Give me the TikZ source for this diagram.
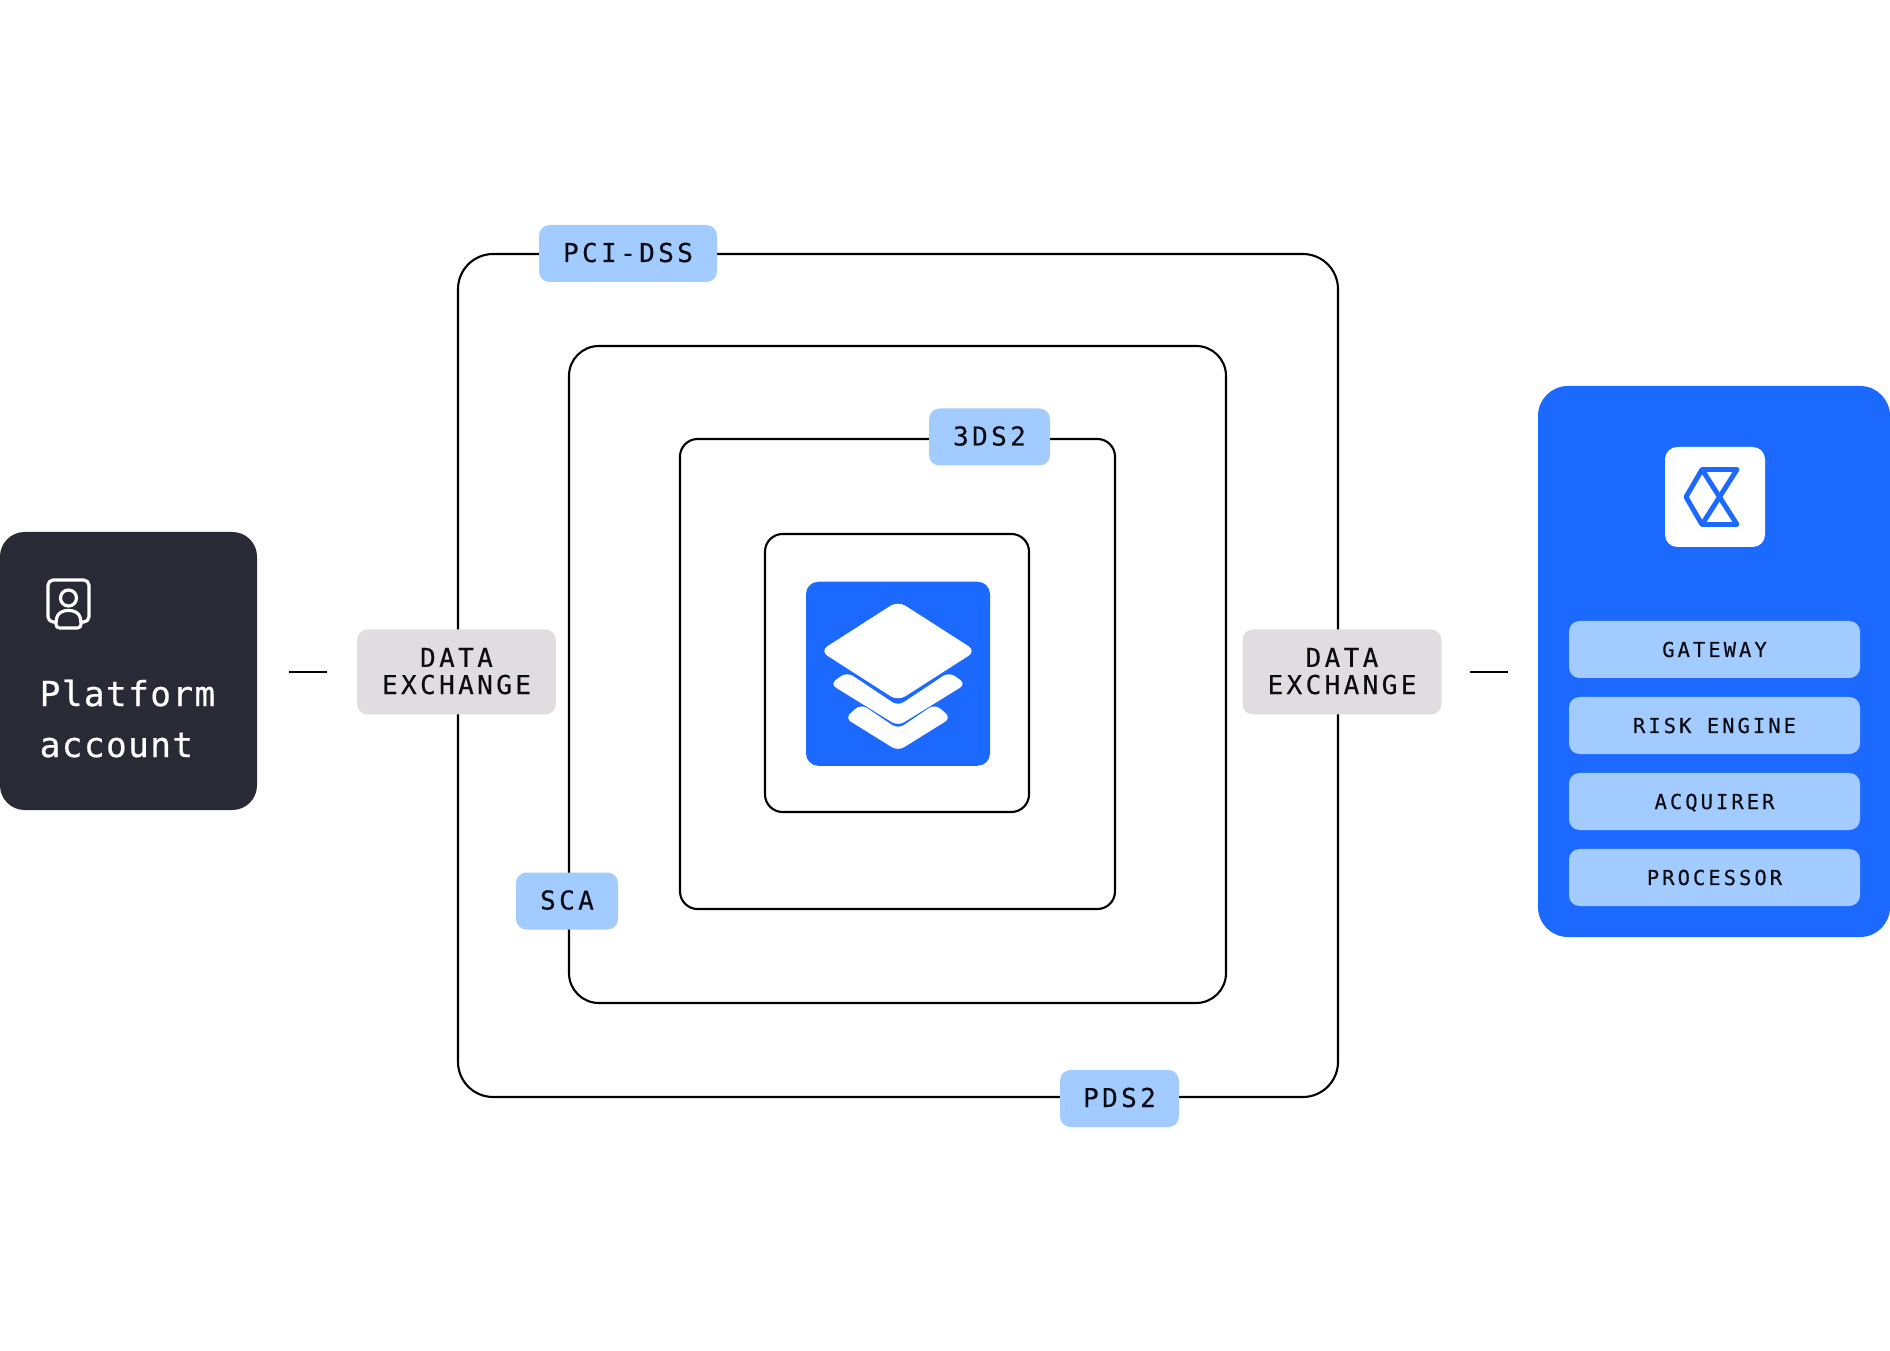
\documentclass[tikz,border=0pt]{standalone}
\usepackage{xcolor}
\usepackage{fontspec}
\usetikzlibrary{positioning,calc}
\newfontfamily\titlefont[LetterSpace=4,FakeBold=0.5]{DejaVu Sans Mono}
\newfontfamily\tagfont[LetterSpace=13,FakeBold=0.3]{DejaVu Sans Mono}
\newfontfamily\rowfont[LetterSpace=14.5,FakeBold=0.3]{DejaVu Sans Mono}
\definecolor{primary}{RGB}{27,105,255}
\definecolor{primarybg}{RGB}{162,203,255}
\definecolor{darkbox}{RGB}{42,42,54}
\definecolor{greybox}{RGB}{225,220,223}
\definecolor{darktext}{RGB}{11,11,20}

\begin{document}
\begin{tikzpicture}[
            ring/.style={rectangle, draw=black, line width=0.6pt, inner sep=0pt, outer sep=0pt},
            tag/.style={rectangle, rounded corners=3pt, fill=primarybg, minimum height=0.57cm, inner sep=0pt, outer sep=0pt, text height=0.19cm, text depth=0.02cm, text=darktext, font=\tagfont\fontsize{7.4}{7.7}\selectfont},
            exch/.style={rectangle, rounded corners=3pt, fill=greybox, minimum width=1.99cm, minimum height=0.85cm, inner sep=0pt, outer sep=0pt, align=center, text depth=0.02cm, text=darktext, font=\tagfont\fontsize{7.4}{7.7}\selectfont},
            row/.style={rectangle, rounded corners=3pt, fill=primarybg, minimum width=2.91cm, minimum height=0.57cm, inner sep=0pt, outer sep=0pt, text height=0.15cm, text depth=0pt, text=darktext, font=\rowfont\fontsize{5.85}{7}\selectfont},
            link/.style={line width=0.6pt, black},
            icon/.style={white, line width=0.9pt, line join=round},
            sheet/.style={fill=white, rounded corners=2.5pt},
            chevron/.style={fill=white, rounded corners=2pt}
        ]
        \useasboundingbox (0,0) rectangle (18.9,13.5);

        % Compliance rings
        \node[ring, rounded corners=10pt, minimum width=8.8cm, minimum height=8.43cm] (outer) at (8.98,6.745) {};
        \node[ring, rounded corners=8.5pt, minimum width=6.57cm, minimum height=6.57cm] (second) at (8.975,6.755) {};
        \node[ring, rounded corners=5pt, minimum width=4.35cm, minimum height=4.7cm] (third) at (8.975,6.76) {};
        \node[ring, rounded corners=5pt, minimum width=2.64cm, minimum height=2.78cm] (inner) at (8.97,6.77) {};

        % Layers tile
        \node[rectangle, rounded corners=3.5pt, fill=primary, minimum width=1.84cm, minimum height=1.84cm, inner sep=0pt] (layers) at (8.98,6.7625) {};
        \fill[sheet] (8.98,7.49) -- (9.76,6.99) -- (8.98,6.49) -- (8.20,6.99) -- cycle;
        \fill[chevron] (8.47,6.78) -- (8.98,6.44) -- (9.49,6.78) -- (9.66,6.66) -- (8.98,6.24) -- (8.30,6.66) -- cycle;
        \fill[chevron] (8.61,6.46) -- (8.98,6.21) -- (9.35,6.46) -- (9.51,6.32) -- (8.98,5.99) -- (8.45,6.32) -- cycle;

        % Ring labels
        \node[tag, minimum width=1.78cm] (pci) at (6.28,10.965) {PCI-DSS};
        \node[tag, minimum width=1.21cm] (tds) at (9.895,9.13) {3DS2};
        \node[tag, minimum width=1.02cm] (sca) at (5.67,4.49) {SCA};
        \node[tag, minimum width=1.19cm] (pds) at (11.195,2.515) {PDS2};

        % Platform account
        \node[rectangle, rounded corners=7pt, fill=darkbox, minimum width=2.57cm, minimum height=2.78cm, inner sep=0pt, outer sep=0pt] (platform) at (1.285,6.79) {};
        \node[anchor=north west, inner sep=0pt, align=left, text=white, font=\titlefont\fontsize{9.8}{14.5}\selectfont] (plabel) at (0.39,6.71) {Platform\\account};
        \draw[icon, rounded corners=1.5pt] (0.56,7.28) -- (0.48,7.28) -- (0.48,7.70) -- (0.89,7.70) -- (0.89,7.28) -- (0.81,7.28);
        \draw[icon] (0.685,7.52) circle (0.08);
        \draw[icon, rounded corners=1pt] (0.56,7.22) -- (0.81,7.22) -- (0.81,7.29) .. controls (0.78,7.42) and (0.59,7.42) .. (0.56,7.29) -- cycle;

        % Data exchange
        \node[exch] (dataleft) at (4.565,6.78) {DATA\\EXCHANGE};
        \node[exch] (dataright) at (13.42,6.78) {DATA\\EXCHANGE};

        % Provider panel
        \node[rectangle, rounded corners=8.5pt, fill=primary, minimum width=3.52cm, minimum height=5.51cm, inner sep=0pt, outer sep=0pt] (panel) at (17.14,6.885) {};
        \node[rectangle, rounded corners=3.5pt, fill=white, minimum width=1cm, minimum height=1cm, inner sep=0pt] (logo) at (17.15,8.53) {};
        \draw[primary, line width=1.4pt, line join=round] (16.86,8.53) -- (17.02,8.805) -- (17.37,8.805) -- (17.02,8.255) -- cycle;
        \draw[primary, line width=1.4pt, line join=round] (17.02,8.805) -- (17.37,8.255) -- (17.02,8.255);
        \node[row] (gateway) at (17.145,7.005) {GATEWAY};
        \node[row] (risk) at (17.145,6.245) {RISK ENGINE};
        \node[row] (acquirer) at (17.145,5.485) {ACQUIRER};
        \node[row] (processor) at (17.145,4.725) {PROCESSOR};

        % Links
        \draw[link, shorten <=0.32cm, shorten >=0.3cm] (platform.east |- dataleft.west) -- (dataleft.west);
        \draw[link, shorten <=0.28cm, shorten >=0.3cm] (dataright.east) -- (dataright.east -| panel.west);
        
        \end{tikzpicture}
\end{document}
